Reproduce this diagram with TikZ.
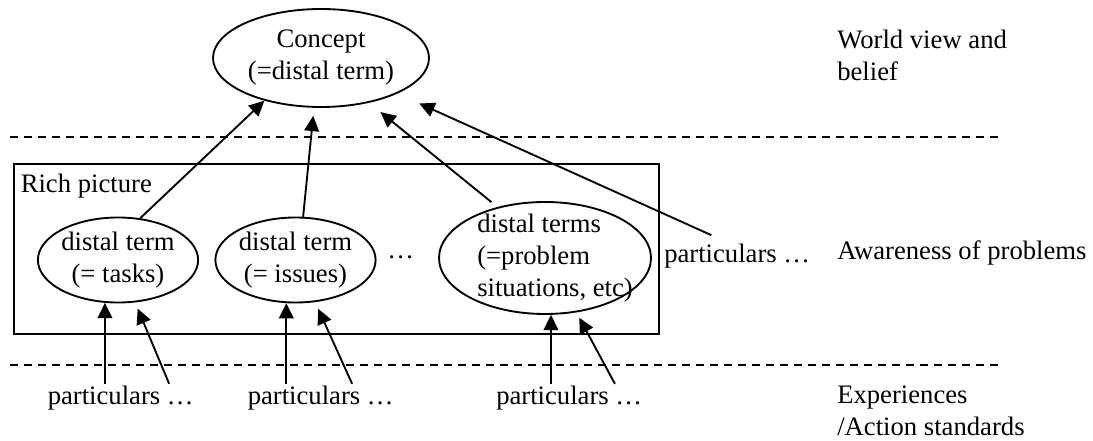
\documentclass[tikz,border=0pt]{standalone}
\usepackage{fontspec}
\setmainfont{Liberation Serif}
\usetikzlibrary{arrows.meta,shapes.geometric}
\begin{document}
\begin{tikzpicture}[x=0.75pt,y=-0.75pt,
  every node/.style={font=\fontsize{20}{24}\selectfont},
  stroke/.style={line width=1.4pt},
  term/.style={ellipse, draw, stroke, inner sep=0pt, align=center},
  txt/.style={inner sep=0pt, align=left},
  arr/.style={stroke, -{Triangle[length=11.5pt,width=11pt]}},
  layer/.style={line width=1.4pt, dash pattern=on 6pt off 4.5pt},
]
% canvas
\path[fill=white, use as bounding box] (0,0) rectangle (1093,441);

% layer separators
\draw[layer] (10,137) -- (998,137);
\draw[layer] (10,365) -- (998,365);

% rich picture frame
\node[draw, stroke, inner sep=0pt, anchor=north west,
      minimum width=484.3pt, minimum height=127.1pt] (rich) at (12.7,163.5) {};
\node[txt, anchor=base west] (richlbl) at (20.5,193) {Rich picture};

% concept and distal terms
\node[term, minimum width=162pt, minimum height=73.5pt] (concept) at (321,58)
  {Concept\\(=distal term)};
\node[term, minimum width=120pt, minimum height=63.75pt] (tasks) at (118,260)
  {distal term\\(= tasks)};
\node[term, minimum width=120pt, minimum height=63.75pt] (issues) at (295.5,260)
  {distal term\\(= issues)};
\node[ellipse, draw, stroke, inner sep=0pt, minimum width=159pt, minimum height=84pt]
  (prob) at (545,258) {};
\node[txt, anchor=north west] (probtxt) at (477,213.8)
  {distal terms\\(=problem\\situations, etc)};
\node[txt, anchor=base west] (dots) at (387,259) {…};

% particulars
\node[txt, anchor=base west] (rp) at (664,263) {particulars …};
\node[txt, anchor=base west] (pb1) at (47.5,405) {particulars …};
\node[txt, anchor=base west] (pb2) at (247.5,405) {particulars …};
\node[txt, anchor=base west] (pb3) at (496,405) {particulars …};

% layer labels
\node[txt, anchor=north west] (world) at (837,29.8) {World view and\\belief};
\node[txt, anchor=base west] (aware) at (837,260) {Awareness of problems};
\node[txt, anchor=north west] (exper) at (837,385.3) {Experiences\\/Action standards};

% upward links to the concept
\draw[arr] (tasks.62) -- (concept.217);
\draw[arr, shorten >=6pt] (issues.80) -- (concept.262);
\draw[arr, shorten <=5.8pt, shorten >=11pt] (prob.133) -- (concept.317);
\draw[arr, shorten >=18pt] ([xshift=-19.4pt,yshift=6.8pt]rp.north) -- (concept.335);

% particulars feeding the distal terms
\draw[arr, shorten <=2pt] (pb1.north -| tasks.253) -- (tasks.253);
\draw[arr, shorten <=2pt, shorten >=5pt] ([xshift=37.1pt]pb1.north) -- (tasks.292);
\draw[arr, shorten <=2pt] (pb2.north -| issues.258) -- (issues.258);
\draw[arr, shorten <=2pt, shorten >=5.5pt] ([xshift=24.4pt]pb2.north) -- (issues.295);
\draw[arr, shorten <=2pt] (pb3.north -| prob.276) -- (prob.276);
\draw[arr, shorten <=2pt, shorten >=4.5pt] ([xshift=35.25pt]pb3.north) -- (prob.300);
\end{tikzpicture}
\end{document}
